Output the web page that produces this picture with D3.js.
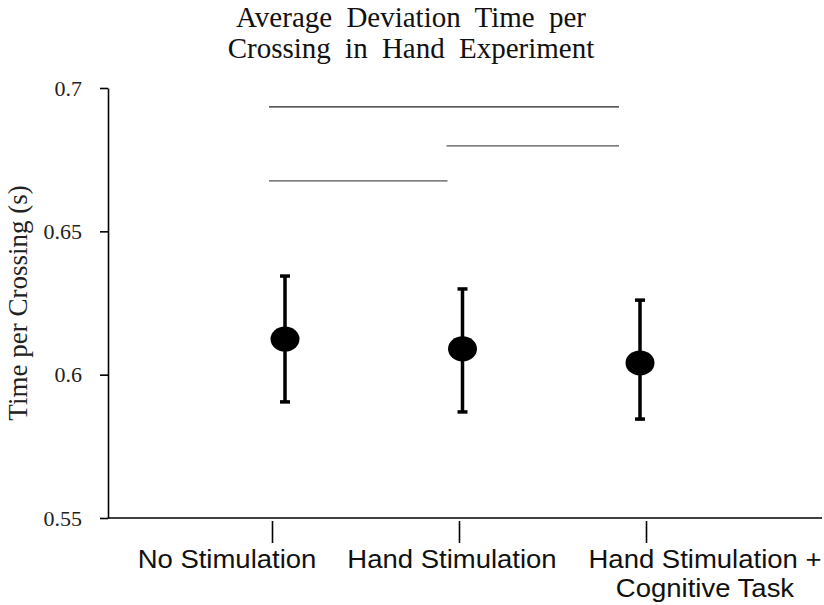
<!DOCTYPE html>
<html>
<head>
<meta charset="utf-8">
<script src="https://cdn.jsdelivr.net/npm/d3@7"></script>
<style>
  html, body { margin: 0; padding: 0; background: #fff; }
  svg { display: block; }
</style>
</head>
<body>
<div id="chart"></div>
<script>
// data
const categories = ['No Stimulation', 'Hand Stimulation', 'Hand Stimulation +\nCognitive Task'];
const means = [0.6124, 0.6090, 0.6041];
const upper = [0.6344, 0.6299, 0.6260];
const lower = [0.5905, 0.5870, 0.5845];
const yTicks = [0.55, 0.6, 0.65, 0.7];
// significance brackets: [from group, to group, height]
const compFrom = [0, 1, 0];
const compTo = [2, 2, 1];
const compLevel = [0.6934, 0.6798, 0.6676];

const width = 824, height = 605;

const svg = d3.select('#chart').append('svg')
    .attr('width', width)
    .attr('height', height);

const y = d3.scaleLinear().domain([0.55, 0.7]).range([518, 88]);
// marks and axis ticks are not quite aligned in the original
const xMark = d3.scalePoint().domain(d3.range(categories.length)).range([285, 640]);
const xTick = d3.scalePoint().domain(d3.range(categories.length)).range([272, 646]);
const labelShift = [-45, -7, 59];

// title
const title = svg.append('text')
    .attr('text-anchor', 'middle')
    .style('font-family', '"Liberation Serif", "Times New Roman", serif')
    .style('font-size', '29px')
    .style('word-spacing', '7px')
    .attr('fill', '#111');
title.append('tspan').attr('x', 411).attr('y', 27).text('Average Deviation Time per');
title.append('tspan').attr('x', 411).attr('y', 58).text('Crossing in Hand Experiment');

// y axis
const yAxis = svg.append('g')
    .attr('transform', 'translate(108,0)')
    .call(d3.axisLeft(y).tickValues(yTicks).tickSize(8).tickSizeOuter(0).tickPadding(18)
        .tickFormat(d => String(d)));
yAxis.select('.domain').attr('stroke', '#000').attr('stroke-width', 1.6);
yAxis.selectAll('.tick line').attr('stroke', '#000').attr('stroke-width', 1.6);
yAxis.selectAll('.tick text')
    .style('font-family', '"Liberation Serif", "Times New Roman", serif')
    .style('font-size', '22px')
    .attr('fill', '#222');

svg.append('text')
    .attr('transform', 'translate(27,303) rotate(-90)')
    .attr('text-anchor', 'middle')
    .style('font-family', '"Liberation Serif", "Times New Roman", serif')
    .style('font-size', '27px')
    .attr('fill', '#222')
    .text('Time per Crossing (s)');

// x axis baseline
svg.append('line')
    .attr('x1', 108).attr('x2', 822)
    .attr('y1', y(0.55)).attr('y2', y(0.55))
    .attr('stroke', '#000').attr('stroke-width', 1.6);

// x axis ticks (detached from the baseline)
const xAxis = svg.append('g')
    .attr('transform', `translate(0,${y(0.55) + 3})`)
    .call(d3.axisBottom(xTick).tickSize(22).tickSizeOuter(0).tickFormat(''));
xAxis.select('.domain').remove();
xAxis.selectAll('.tick line').attr('stroke', '#000').attr('stroke-width', 1.6);

// category labels
categories.forEach((c, i) => {
  const t = svg.append('text')
      .attr('transform', `translate(${xTick(i) + labelShift[i]},568) scale(1.1,1)`)
      .attr('text-anchor', 'middle')
      .style('font-family', '"Liberation Sans", Arial, sans-serif')
      .style('font-size', '25px')
      .attr('fill', '#111');
  c.split('\n').forEach((line, k) => {
    t.append('tspan').attr('x', 0).attr('y', k * 29).text(line);
  });
});

// significance lines
svg.append('g').selectAll('line')
    .data(compLevel)
    .join('line')
    .attr('x1', (d, i) => xMark(compFrom[i]) - 16)
    .attr('x2', (d, i) => xMark(compTo[i]) - (compTo[i] === 1 ? 15 : 21))
    .attr('y1', d => y(d)).attr('y2', d => y(d))
    .attr('stroke', (d, i) => i === 0 ? '#222' : '#555')
    .attr('stroke-width', 1.3);

// error bars
const bars = svg.append('g').selectAll('g')
    .data(means)
    .join('g');
bars.append('line')
    .attr('x1', (d, i) => xMark(i)).attr('x2', (d, i) => xMark(i))
    .attr('y1', (d, i) => y(upper[i])).attr('y2', (d, i) => y(lower[i]))
    .attr('stroke', '#000').attr('stroke-width', 3.5);
bars.append('line')
    .attr('x1', (d, i) => xMark(i) - 5).attr('x2', (d, i) => xMark(i) + 5)
    .attr('y1', (d, i) => y(upper[i])).attr('y2', (d, i) => y(upper[i]))
    .attr('stroke', '#000').attr('stroke-width', 3.5);
bars.append('line')
    .attr('x1', (d, i) => xMark(i) - 5).attr('x2', (d, i) => xMark(i) + 5)
    .attr('y1', (d, i) => y(lower[i])).attr('y2', (d, i) => y(lower[i]))
    .attr('stroke', '#000').attr('stroke-width', 3.5);
bars.append('ellipse')
    .attr('cx', (d, i) => xMark(i))
    .attr('cy', d => y(d))
    .attr('rx', 14.5).attr('ry', 12.5)
    .attr('fill', '#000');
</script>
</body>
</html>
